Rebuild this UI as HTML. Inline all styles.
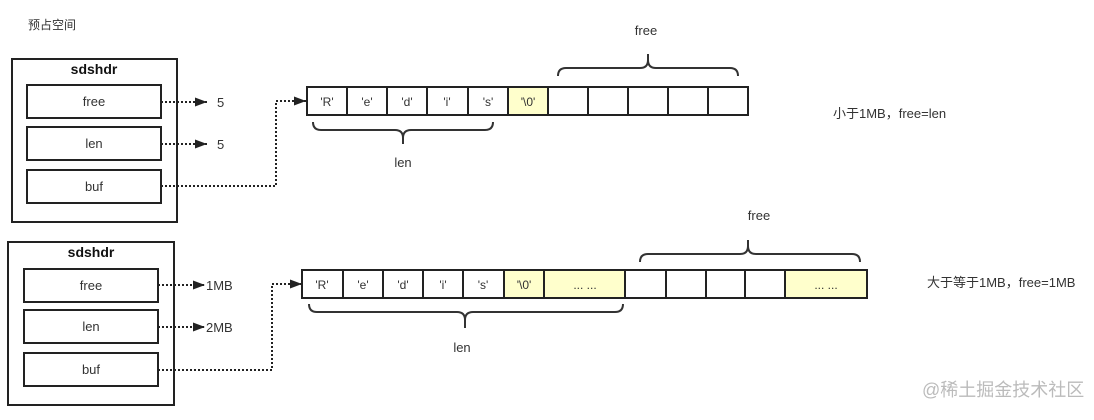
<!DOCTYPE html>
<html><head><meta charset="utf-8"><style>
html,body{margin:0;padding:0;background:#fff;}
text{font-family:"Liberation Sans","Noto Sans CJK SC",sans-serif;fill:#333;}
</style></head><body>
<svg width="1094" height="415" viewBox="0 0 1094 415" xmlns="http://www.w3.org/2000/svg">
<defs><marker id="a" markerWidth="12" markerHeight="9" refX="12" refY="4.5" orient="auto" markerUnits="userSpaceOnUse"><path d="M0,0L12,4.5L0,9z" fill="#222"/></marker></defs>
<text x="28" y="29" font-size="12">预占空间</text>
<!-- top struct -->
<rect x="12" y="59" width="165" height="163" fill="#fff" stroke="#222" stroke-width="2"/>
<text x="94" y="74" font-size="14" font-weight="bold" text-anchor="middle" style="fill:#111">sdshdr</text>
<g fill="#fff" stroke="#222" stroke-width="2">
<rect x="27" y="85" width="134" height="33"/><rect x="27" y="127" width="134" height="33"/><rect x="27" y="170" width="134" height="33"/>
</g>
<g font-size="13" text-anchor="middle"><text x="94" y="106">free</text><text x="94" y="148">len</text><text x="94" y="191">buf</text></g>
<g stroke="#222" stroke-width="2" stroke-dasharray="2,2" fill="none">
<path d="M161,102H207" marker-end="url(#a)"/><path d="M161,144H207" marker-end="url(#a)"/>
<path d="M161,186H276V101H306" marker-end="url(#a)"/>
</g>
<text x="217" y="107" font-size="13">5</text><text x="217" y="149" font-size="13">5</text>
<g stroke="#222" stroke-width="2">
<rect x="307" y="87" width="441" height="28" fill="#fff"/>
<rect x="508" y="87" width="40" height="28" fill="#ffffcc"/>
<path d="M347,87v28M387,87v28M427,87v28M468,87v28M508,87v28M548,87v28M588,87v28M628,87v28M668,87v28M708,87v28"/>
</g>
<g font-size="12" text-anchor="middle"><text x="327" y="106">'R'</text><text x="367" y="106">'e'</text><text x="407" y="106">'d'</text><text x="447" y="106">'i'</text><text x="488" y="106">'s'</text><text x="528" y="106">'\0'</text></g>
<g stroke="#333" stroke-width="2" fill="none">
<path d="M313,122q0,8 8,8H395q8,0 8,8v6v-6q0,-8 8,-8H485q8,0 8,-8"/>
<path d="M558,76q0,-8 8,-8H640q8,0 8,-8v-6v6q0,8 8,8H730q8,0 8,8"/>
</g>
<text x="403" y="167" font-size="13" text-anchor="middle">len</text>
<text x="646" y="35" font-size="13" text-anchor="middle">free</text>
<text x="833" y="118" font-size="13">小于1MB，free=len</text>
<!-- bottom struct -->
<rect x="8" y="242" width="166" height="163" fill="#fff" stroke="#222" stroke-width="2"/>
<text x="91" y="257" font-size="14" font-weight="bold" text-anchor="middle" style="fill:#111">sdshdr</text>
<g fill="#fff" stroke="#222" stroke-width="2">
<rect x="24" y="269" width="134" height="33"/><rect x="24" y="310" width="134" height="33"/><rect x="24" y="353" width="134" height="33"/>
</g>
<g font-size="13" text-anchor="middle"><text x="91" y="290">free</text><text x="91" y="331">len</text><text x="91" y="374">buf</text></g>
<g stroke="#222" stroke-width="2" stroke-dasharray="2,2" fill="none">
<path d="M158,285H205" marker-end="url(#a)"/><path d="M158,327H205" marker-end="url(#a)"/>
<path d="M158,370H272V284H302" marker-end="url(#a)"/>
</g>
<text x="206" y="290" font-size="13">1MB</text><text x="206" y="332" font-size="13">2MB</text>
<g stroke="#222" stroke-width="2">
<rect x="302" y="270" width="565" height="28" fill="#fff"/>
<rect x="504" y="270" width="121" height="28" fill="#ffffcc"/>
<rect x="785" y="270" width="82" height="28" fill="#ffffcc"/>
<path d="M343,270v28M383,270v28M423,270v28M463,270v28M504,270v28M544,270v28M625,270v28M666,270v28M706,270v28M745,270v28M785,270v28"/>
</g>
<g font-size="12" text-anchor="middle"><text x="322" y="289">'R'</text><text x="363" y="289">'e'</text><text x="403" y="289">'d'</text><text x="443" y="289">'i'</text><text x="483" y="289">'s'</text><text x="524" y="289">'\0'</text><text x="585" y="289">... ...</text><text x="826" y="289">... ...</text></g>
<g stroke="#333" stroke-width="2" fill="none">
<path d="M309,304q0,8 8,8H457q8,0 8,8v8v-8q0,-8 8,-8H615q8,0 8,-8"/>
<path d="M640,262q0,-8 8,-8H740q8,0 8,-8v-6v6q0,8 8,8H852q8,0 8,8"/>
</g>
<text x="462" y="352" font-size="13" text-anchor="middle">len</text>
<text x="759" y="220" font-size="13" text-anchor="middle">free</text>
<text x="927" y="287" font-size="13">大于等于1MB，free=1MB</text>
<text x="922" y="396" font-size="18" style="fill:#bbb">@稀土掘金技术社区</text>
</svg>
</body></html>
